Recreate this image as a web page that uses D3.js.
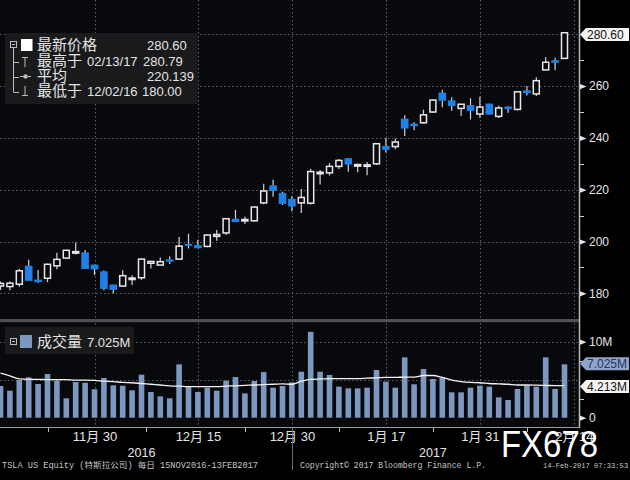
<!DOCTYPE html>
<html><head><meta charset="utf-8">
<script src="https://cdn.jsdelivr.net/npm/d3@7"></script>
<style>html,body{margin:0;padding:0;background:#000;}svg{display:block;}</style>
</head><body><svg id="c" width="630" height="480"></svg>
<script>
const dates = ["2016-11-15","2016-11-16","2016-11-17","2016-11-18","2016-11-21","2016-11-22","2016-11-23","2016-11-25","2016-11-28","2016-11-29","2016-11-30","2016-12-01","2016-12-02","2016-12-05","2016-12-06","2016-12-07","2016-12-08","2016-12-09","2016-12-12","2016-12-13","2016-12-14","2016-12-15","2016-12-16","2016-12-19","2016-12-20","2016-12-21","2016-12-22","2016-12-23","2016-12-27","2016-12-28","2016-12-29","2016-12-30","2017-01-03","2017-01-04","2017-01-05","2017-01-06","2017-01-09","2017-01-10","2017-01-11","2017-01-12","2017-01-13","2017-01-17","2017-01-18","2017-01-19","2017-01-20","2017-01-23","2017-01-24","2017-01-25","2017-01-26","2017-01-27","2017-01-30","2017-01-31","2017-02-01","2017-02-02","2017-02-03","2017-02-06","2017-02-07","2017-02-08","2017-02-09","2017-02-10","2017-02-13"];
const open  = [182.8,182.6,183.5,190.5,185.1,185.8,190.6,193.6,195.5,195.6,190.9,188.3,183.2,182.8,185.5,186.0,191.6,190.9,192.9,193.2,198.9,198.4,198.1,202.0,203.3,208.6,208.2,208.0,214.9,221.5,218.6,216.3,214.9,214.8,226.4,226.5,229.0,232.0,229.1,229.1,230.0,236.7,236.65,247.25,245.3,245.85,250.0,257.3,254.3,251.4,252.5,249.2,253.05,248.3,251.9,251.0,258.2,257.0,266.25,269.8,270.7];
const high  = [184.6,184.7,189.5,193.0,189.0,191.5,195.7,196.8,199.6,196.7,191.0,188.8,183.3,188.9,187.0,193.4,192.6,193.8,194.3,201.7,203.0,200.7,202.6,204.4,209.0,212.2,209.6,213.5,222.3,223.8,219.2,217.5,220.3,228.0,227.6,230.3,231.9,232.0,230.0,230.7,237.9,240.0,239.7,248.7,246.0,250.9,254.8,258.5,255.7,253.0,255.3,255.9,253.2,252.4,252.2,257.8,260.0,263.4,271.2,270.95,280.79];
const low   = [181.3,181.2,182.5,185.0,184.1,184.3,189.3,193.4,195.0,189.4,187.0,181.2,180.0,182.5,183.2,185.2,189.6,190.8,191.3,192.9,197.3,197.4,197.8,200.3,202.6,207.5,206.8,207.7,214.4,217.3,214.1,211.7,211.0,214.3,222.0,225.5,228.0,226.9,226.7,225.6,229.6,234.4,235.6,240.75,243.0,245.5,249.65,251.8,250.45,248.5,247.1,247.8,249.05,247.7,249.7,250.6,256.4,256.2,266.15,266.1,270.5];
const close = [183.8,183.9,188.7,185.0,184.5,191.2,193.1,196.6,196.1,189.6,189.4,181.9,181.5,186.8,185.9,193.2,192.3,192.2,192.4,198.2,198.7,197.6,202.5,202.7,208.8,207.7,208.5,213.3,219.5,219.7,214.7,213.7,217.0,227.0,226.75,229.0,231.3,229.9,229.7,229.6,237.75,235.6,238.4,243.8,244.7,248.9,254.6,254.5,252.5,253.0,250.6,251.9,249.2,251.55,251.3,257.8,257.5,262.1,269.2,269.2,280.6];
// volume in millions
const volume = [4.17,3.55,4.96,5.31,4.43,5.75,4.87,2.55,4.7,4.6,3.74,5.22,4.26,4.21,3.6,5.66,3.38,2.81,2.55,7.02,4.08,3.38,3.95,3.55,4.87,5.35,3.2,4.83,6.0,3.95,4.17,4.65,6.05,11.3,6.05,5.62,4.08,3.86,3.86,3.95,6.28,4.74,3.95,7.94,4.39,6.41,5.09,5.26,3.34,3.34,3.95,4.21,4.08,2.68,2.33,3.78,4.21,4.08,7.94,3.78,7.025];
const volumeMA = [5.85,5.5,5.1,5.05,5.05,5.0,5.0,5.0,4.95,4.95,4.9,4.8,4.75,4.65,4.6,4.5,4.4,4.3,4.2,4.15,4.1,4.1,4.1,4.1,4.15,4.2,4.25,4.3,4.35,4.4,4.45,4.4,4.8,5.05,5.1,5.15,5.15,5.15,5.15,5.2,5.25,5.3,5.3,5.35,5.35,5.55,5.55,5.3,4.95,4.75,4.65,4.6,4.5,4.45,4.4,4.3,4.3,4.28,4.25,4.22,4.213];

const priceTicks = [180,200,220,240,260];
const priceMinorTicks = [190,210,230,250,270];
const priceGrid = [180,200,220,240,260,280];
const volTicks = [0,10];
const volTickLabels = ["0","10M"];
const volMinorTicks = [2.5,7.5];
const volGrid = [5,10];
const dateTickIdx = [10,21,31,41,51,61];
const dateTickLabels = ["11月 30","12月 15","12月 30","1月 17","1月 31","2月 14"];
const dateMinorIdx = [5,15.5,26,36,46,56];
const yearLabels = ["2016","2017"];
const yearCenters = [15,46];
const yearDivider = 31;
const lastPrice = 280.60, lastVol = 7.025, lastMA = 4.213;
const legendRows = [
  {zh:"最新价格", extra:"", value:"280.60"},
  {zh:"最高于", extra:"02/13/17", value:"280.79"},
  {zh:"平均", extra:"", value:"220.139"},
  {zh:"最低于", extra:"12/02/16", value:"180.00"}
];

const FONT = "'Liberation Sans','Noto Sans CJK SC',sans-serif";
const ZH = "'Noto Sans CJK SC',sans-serif";
const BG = "#08090d", GRID = "#5f5f5f", TXT = "#e4e4e4";
const UP = "#e8e8e8", DOWN = "#1f80e8", VOL = "#7d98c0";

const svg = d3.select("#c");
svg.append("rect").attr("width",630).attr("height",480).attr("fill","#000");
svg.append("rect").attr("x",0).attr("y",0).attr("width",579).attr("height",319).attr("fill",BG);
svg.append("rect").attr("x",0).attr("y",319).attr("width",580).attr("height",3.5).attr("fill","#4f4f4f");
svg.append("rect").attr("x",0).attr("y",322.5).attr("width",579).attr("height",105).attr("fill",BG);

const x = d3.scaleLinear().domain([0,60]).range([0.5,564.5]);
const yP = d3.scaleLinear().domain([180,280]).range([293.3,34.3]);
const yV = d3.scaleLinear().domain([0,10]).range([417.7,341.7]);

const data = dates.map((d,i)=>({i,d,o:open[i],h:high[i],l:low[i],c:close[i],v:volume[i],ma:volumeMA[i]}));

// grids
const g = svg.append("g").attr("stroke",GRID).attr("stroke-width",1).attr("stroke-dasharray","1.5,2.5");
g.selectAll(".hp").data(priceGrid).join("line").attr("class","hp")
  .attr("x1",0).attr("x2",579).attr("y1",d=>Math.round(yP(d))+0.5).attr("y2",d=>Math.round(yP(d))+0.5);
g.selectAll(".hv").data(volGrid).join("line").attr("class","hv")
  .attr("x1",0).attr("x2",579).attr("y1",d=>Math.round(yV(d))+0.5).attr("y2",d=>Math.round(yV(d))+0.5);
g.selectAll(".vp").data(dateTickIdx).join("line").attr("class","vp")
  .attr("x1",d=>Math.round(x(d))+0.5).attr("x2",d=>Math.round(x(d))+0.5).attr("y1",0).attr("y2",319);
g.selectAll(".vv").data(dateTickIdx).join("line").attr("class","vv")
  .attr("x1",d=>Math.round(x(d))+0.5).attr("x2",d=>Math.round(x(d))+0.5).attr("y1",323).attr("y2",427);

// candles
const cg = svg.append("g");
cg.selectAll(".wick").data(data).join("line").attr("class","wick")
  .attr("x1",d=>x(d.i)).attr("x2",d=>x(d.i)).attr("y1",d=>yP(d.h)).attr("y2",d=>yP(d.l))
  .attr("stroke","#d4d4d4").attr("stroke-width",1.2);
cg.selectAll(".body").data(data).join("rect").attr("class","body")
  .each(function(d){
    const up = d.c >= d.o;
    const top = yP(Math.max(d.o,d.c)), bot = yP(Math.min(d.o,d.c));
    const s = d3.select(this);
    if (up) {
      s.attr("x",x(d.i)-3).attr("width",6).attr("y",top).attr("height",Math.max(bot-top,1.5))
       .attr("fill",BG).attr("stroke",UP).attr("stroke-width",1.5);
    } else {
      s.attr("x",x(d.i)-3.8).attr("width",7.6).attr("y",top-0.5).attr("height",Math.max(bot-top+1,2))
       .attr("fill",DOWN);
    }
  });

// volume bars
svg.append("g").selectAll("rect").data(data).join("rect")
  .attr("x",d=>x(d.i)-2.8).attr("width",5.6)
  .attr("y",d=>yV(d.v)).attr("height",d=>yV(0)-yV(d.v)).attr("fill",VOL);
svg.append("path").datum(data)
  .attr("d",d3.line().x(d=>x(d.i)).y(d=>yV(d.ma)).curve(d3.curveMonotoneX))
  .attr("fill","none").attr("stroke","#f2f2f2").attr("stroke-width",1.3);

// right axis
svg.append("line").attr("x1",579.5).attr("x2",579.5).attr("y1",0).attr("y2",428).attr("stroke","#b8b8b8").attr("stroke-width",1.5);
function styleAxis(sel){
  sel.select(".domain").remove();
  sel.selectAll("text").attr("fill",TXT).attr("font-size",12).attr("font-family",FONT);
  sel.selectAll(".tick").append("path").attr("d","M0,-2.6L6.5,0L0,2.6Z").attr("fill",TXT);
}
const gp = svg.append("g").attr("transform","translate(580,0)")
  .call(d3.axisRight(yP).tickValues(priceTicks).tickSize(0).tickPadding(9).tickFormat(d3.format("d")));
styleAxis(gp);
svg.append("g").selectAll("line").data(priceMinorTicks).join("line")
  .attr("x1",580).attr("x2",584).attr("y1",d=>Math.round(yP(d))+0.5).attr("y2",d=>Math.round(yP(d))+0.5)
  .attr("stroke","#cfcfcf");
const gv = svg.append("g").attr("transform","translate(580,0)")
  .call(d3.axisRight(yV).tickValues(volTicks).tickSize(0).tickPadding(9).tickFormat((d,i)=>volTickLabels[i]));
styleAxis(gv);
svg.append("g").selectAll("line").data(volMinorTicks).join("line")
  .attr("x1",580).attr("x2",584).attr("y1",d=>Math.round(yV(d))+0.5).attr("y2",d=>Math.round(yV(d))+0.5)
  .attr("stroke","#cfcfcf");

function tag(y, label, fill, color){
  const t = svg.append("g");
  t.append("path").attr("d",`M580,${y} L586,${y-6.5} L629,${y-6.5} L629,${y+6.5} L586,${y+6.5} Z`).attr("fill",fill);
  t.append("text").attr("x",587).attr("y",y+4.3).attr("fill",color)
   .attr("font-size",12).attr("font-family",FONT).text(label);
}
tag(yP(lastPrice)+1.8, d3.format(".2f")(lastPrice), "#f4f4f4", "#111");
tag(yV(lastVol)-0.5, d3.format(".3f")(lastVol)+"M", "#8ea6cb", "#26375a");
tag(yV(lastMA)+0.8, d3.format(".3f")(lastMA)+"M", "#f4f4f4", "#111");

// bottom axis
svg.append("line").attr("x1",0).attr("x2",580).attr("y1",427.5).attr("y2",427.5).attr("stroke","#9c9c9c").attr("stroke-width",1.2);
const gd = svg.append("g").attr("transform","translate(0,427.5)")
  .call(d3.axisBottom(x).tickValues(dateTickIdx).tickSize(0).tickPadding(4).tickFormat((d,i)=>dateTickLabels[i]));
gd.select(".domain").remove();
gd.selectAll("text").attr("fill",TXT).attr("font-size",13).attr("font-family",FONT);
svg.append("g").selectAll("line").data(dateMinorIdx).join("line")
  .attr("x1",d=>Math.round(x(d))+0.5).attr("x2",d=>Math.round(x(d))+0.5).attr("y1",428).attr("y2",432)
  .attr("stroke","#bbb");
svg.append("line").attr("x1",Math.round(x(yearDivider))+0.5).attr("x2",Math.round(x(yearDivider))+0.5)
  .attr("y1",428).attr("y2",470).attr("stroke","#6e6e6e");
svg.append("g").selectAll("text").data(yearLabels).join("text")
  .attr("x",(d,i)=>x(yearCenters[i])).attr("y",457).attr("text-anchor","middle")
  .attr("fill",TXT).attr("font-size",12.5).attr("font-family",FONT).text(d=>d);

// footer
const foot = svg.append("g").attr("fill","#c4c4c4").attr("font-family","'Liberation Mono','Noto Sans CJK SC',monospace");
foot.append("text").attr("x",2).attr("y",468).attr("font-size",8.5).attr("textLength",256).attr("lengthAdjust","spacingAndGlyphs").text("TSLA US Equity (特斯拉公司)  每日 15NOV2016-13FEB2017");
foot.append("text").attr("x",300).attr("y",468).attr("font-size",8.5).attr("textLength",186).attr("lengthAdjust","spacingAndGlyphs").text("Copyright© 2017 Bloomberg Finance L.P.");
foot.append("text").attr("x",543).attr("y",468).attr("font-size",7.1).text("14-Feb-2017 07:33:53");

// watermark
svg.append("text").attr("x",501).attr("y",457).attr("fill","#ffffff").attr("font-size",37)
  .attr("font-family","'Liberation Sans',sans-serif").attr("textLength",97).attr("lengthAdjust","spacingAndGlyphs").text("FX678");

// price legend
const lg = svg.append("g");
lg.append("rect").attr("x",5).attr("y",33).attr("width",193).attr("height",71).attr("fill","#1c1c1e").attr("opacity",0.93);
const tree = lg.append("g").attr("stroke","#bdbdbd").attr("stroke-width",1).attr("fill","none");
tree.append("rect").attr("x",10.5).attr("y",41.5).attr("width",6).attr("height",6);
tree.append("line").attr("x1",12).attr("x2",15).attr("y1",44.5).attr("y2",44.5);
tree.append("line").attr("x1",13.5).attr("x2",13.5).attr("y1",48).attr("y2",92);
[62,77,92].forEach(yy=>tree.append("line").attr("x1",13.5).attr("x2",19).attr("y1",yy+0.5).attr("y2",yy+0.5));
tree.append("line").attr("x1",22).attr("x2",28).attr("y1",57.5).attr("y2",57.5);
tree.append("line").attr("x1",25).attr("x2",25).attr("y1",57.5).attr("y2",67);
tree.append("line").attr("x1",20).attr("x2",31).attr("y1",76.5).attr("y2",76.5);
tree.append("circle").attr("cx",25.5).attr("cy",76.5).attr("r",1.8).attr("fill","#bdbdbd");
tree.append("line").attr("x1",25).attr("x2",25).attr("y1",86).attr("y2",95);
tree.append("line").attr("x1",22).attr("x2",28).attr("y1",95.5).attr("y2",95.5);
lg.append("rect").attr("x",21).attr("y",39).attr("width",11.5).attr("height",12).attr("fill","#ffffff");
const rowY = [50,66,81,96];
const valX = [147,143,147,142];
legendRows.forEach((r,i)=>{
  lg.append("text").attr("x",37).attr("y",rowY[i]).attr("fill",TXT).attr("font-size",15)
    .attr("font-family",ZH).text(r.zh);
  if (r.extra) lg.append("text").attr("x",87).attr("y",rowY[i]).attr("fill",TXT).attr("font-size",13)
    .attr("font-family",FONT).text(r.extra);
  lg.append("text").attr("x",valX[i]).attr("y",rowY[i]).attr("fill",TXT).attr("font-size",13)
    .attr("font-family",FONT).text(r.value);
});

// volume legend
const vl = svg.append("g");
vl.append("rect").attr("x",5).attr("y",327).attr("width",129).attr("height",27).attr("fill","#1c1c1e").attr("opacity",0.93);
vl.append("rect").attr("x",10.5).attr("y",338.5).attr("width",6).attr("height",6).attr("fill","none").attr("stroke","#bdbdbd");
vl.append("line").attr("x1",12).attr("x2",15).attr("y1",341.5).attr("y2",341.5).attr("stroke","#bdbdbd");
vl.append("rect").attr("x",20).attr("y",335).attr("width",12).attr("height",13).attr("fill",VOL);
vl.append("text").attr("x",37).attr("y",347).attr("fill",TXT).attr("font-family",ZH).attr("font-size",15).text("成交量");
vl.append("text").attr("x",87).attr("y",347).attr("fill",TXT).attr("font-family",FONT).attr("font-size",13)
  .text(d3.format(".3f")(lastVol) + "M");
</script></body></html>
